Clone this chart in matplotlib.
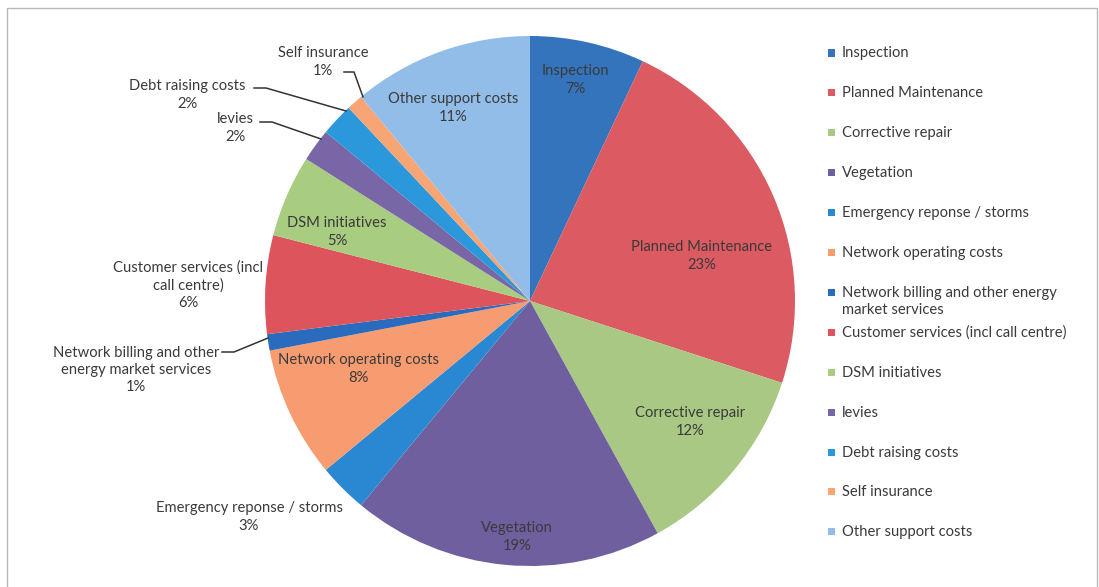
import matplotlib
matplotlib.use("Agg")
import matplotlib.pyplot as plt
from matplotlib.patches import Rectangle

# Chart data (percent of total)
categories = [
    "Inspection", "Planned Maintenance", "Corrective repair", "Vegetation",
    "Emergency reponse / storms", "Network operating costs",
    "Network billing and other energy market services",
    "Customer services (incl call centre)", "DSM initiatives", "levies",
    "Debt raising costs", "Self insurance", "Other support costs",
]
values = [7, 23, 12, 19, 3, 8, 1, 6, 5, 2, 2, 1, 11]
colors = [
    "#3474bd", "#dc5a62", "#a9c883", "#6f5f9f", "#2a88d2", "#f79b70",
    "#2a6bbd", "#de545c", "#a8cd80", "#7866a6", "#2a98da", "#f8a576",
    "#92bde8",
]
legend_labels = categories[:6] + [
    "Network billing and other energy\nmarket services"] + categories[7:]

# Label text as written on the chart (pixel positions of label centres)
pie_labels = [
    ("Inspection", (575, 80)),
    ("Planned Maintenance", (702, 256)),
    ("Corrective repair", (690, 422)),
    ("Vegetation", (517, 537)),
    ("Emergency reponse / storms", (249, 517)),
    ("Network operating costs", (358, 369)),
    ("Network billing and other\nenergy market services", (136, 370)),
    ("Customer services (incl\ncall centre)", (188, 285)),
    ("DSM initiatives", (337, 232)),
    ("levies", (235, 128)),
    ("Debt raising costs", (187, 95)),
    ("Self insurance", (323, 62)),
    ("Other support costs", (453, 108)),
]
# leader lines: (text end, elbow, pie edge) in pixels
leaders = {
    6: [(222, 352), (234, 352), (268, 338)],
    9: [(260, 122), (272, 122), (321, 139)],
    10: [(254, 88), (266, 88), (346, 111)],
    11: [(344, 72), (354, 72), (363, 97)],
}

W, H = 1099, 587
CX, CY, R = 530, 301, 265
FONT = ["Lato", "DejaVu Sans"]
TEXT = "#3a3a3a"
FS = 10.6


def to_data(px, py):
    return (px - CX) / R, (CY - py) / R


fig = plt.figure(figsize=(W / 100, H / 100), dpi=100)
fig.patch.set_facecolor("white")

# outer frame
fig.add_artist(Rectangle((7 / W, -0.01), (W - 9) / W, (H - 8) / H + 0.01,
                         transform=fig.transFigure, fill=False,
                         edgecolor="#b8b8b8", linewidth=1))

ax = fig.add_axes([(CX - R) / W, (H - CY - R) / H, 2 * R / W, 2 * R / H])
ax.pie(values, colors=colors, startangle=90, counterclock=False,
       radius=1, wedgeprops=dict(linewidth=0))
ax.set_xlim(-1, 1)
ax.set_ylim(-1, 1)
ax.set_aspect("equal")
ax.axis("off")

for i, (name, (px, py)) in enumerate(pie_labels):
    x, y = to_data(px, py)
    ax.text(x, y, f"{name}\n{values[i]}%", ha="center", va="center",
            fontsize=FS, family=FONT, color=TEXT, linespacing=1.3,
            clip_on=False)

for i, pts in leaders.items():
    xs, ys = zip(*[to_data(px, py) for px, py in pts])
    ax.plot(xs, ys, color="#333333", lw=1.1, clip_on=False)

# legend
for i, lab in enumerate(legend_labels):
    y = 53 + 39.9 * i
    fig.add_artist(Rectangle((828 / W, 1 - (y + 3.5) / H), 7 / W, 7 / H,
                             transform=fig.transFigure,
                             facecolor=colors[i], edgecolor="none"))
    fig.text(842 / W, 1 - (y - 6.5) / H, lab, ha="left", va="top",
             fontsize=FS, family=FONT, color=TEXT, linespacing=1.3)

fig.savefig("out.png", dpi=100, facecolor="white")
